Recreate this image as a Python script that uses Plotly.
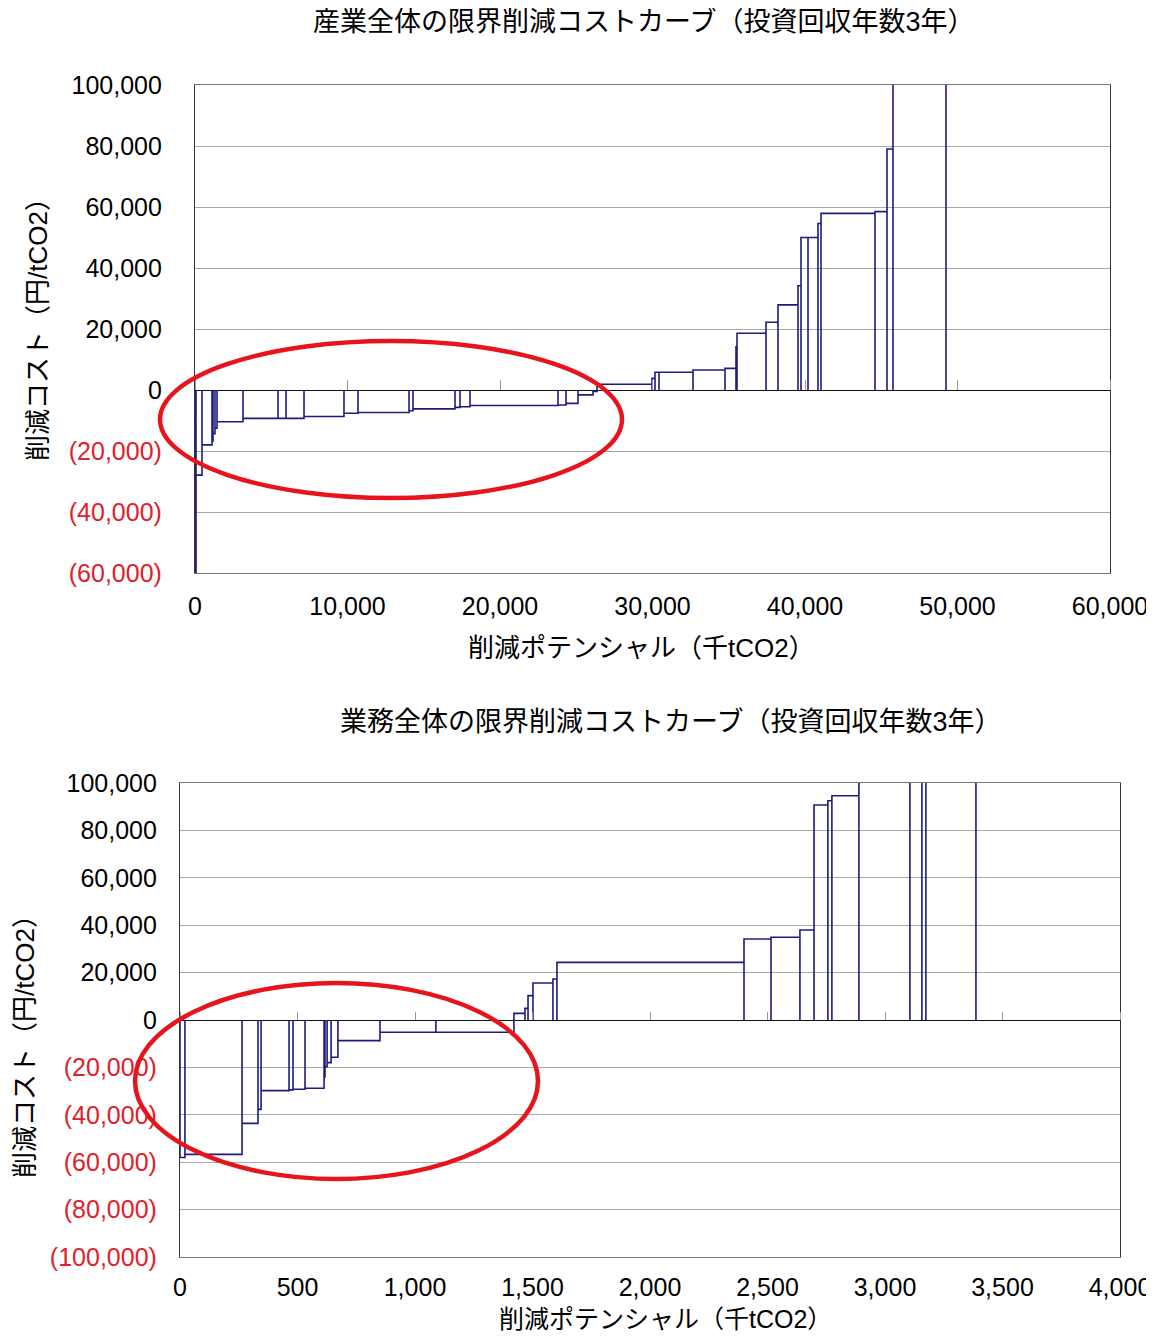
import plotly.graph_objects as go

# ---------------- data ----------------
# Top chart: industry sector (potential in thousand tCO2, cost in yen/tCO2)
ind_width = [66, 393, 656, 65, 131, 132, 1705, 2295, 524, 1181, 2622, 919, 3344, 262,
             2754, 328, 656, 5770, 525, 787, 983, 263, 3606, 197, 262, 2230, 2098, 721,
             66, 1902, 787, 1311, 197, 459, 655, 197, 3541, 787, 393, 3476]
ind_cost = [-70000, -27900, -18000, -16700, -14300, -12500, -10400, -9300, -9300, -9300,
            -8700, -7600, -7400, -6800, -6200, -5700, -5500, -5100, -4900, -4400, -1600,
            -500, 1900, 3800, 5800, 5800, 6550, 7100, 14200, 18600, 22200, 27900, 34200,
            50000, 50000, 54600, 57900, 58500, 79000, 150000]

# Bottom chart: commercial sector
com_width = [21, 243, 68, 13, 119, 17, 51, 81, 4, 9, 17, 29, 179, 238, 332, 47, 13, 21,
             85, 17, 796, 115, 123, 60, 59, 17, 115, 217, 51, 17, 213]
com_cost = [-58000, -56700, -43600, -37700, -29800, -29500, -29200, -28800, -24000,
            -19700, -18000, -15700, -8700, -5200, -5200, 2800, 4900, 10300, 15600, 17300,
            24300, 34200, 34900, 38000, 90700, 92500, 94600, 150000, 130000, 140000, 160000]

ind_yticks = [100000, 80000, 60000, 40000, 20000, 0, -20000, -40000, -60000]
com_yticks = [100000, 80000, 60000, 40000, 20000, 0, -20000, -40000, -60000, -80000, -100000]
ind_xticks = [0, 10000, 20000, 30000, 40000, 50000, 60000]
com_xticks = [0, 500, 1000, 1500, 2000, 2500, 3000, 3500, 4000]

title_top = "産業全体の限界削減コストカーブ（投資回収年数3年）"
title_bot = "業務全体の限界削減コストカーブ（投資回収年数3年）"
xtitle = "削減ポテンシャル（千tCO2）"
ytitle = "削減コスト（円/tCO2）"

# ---------------- helpers ----------------
OFF = 8                      # page body margin
W, H = 1154 - OFF, 1344 - 2 * OFF
LINE = "#1c1c80"
RED = "#e0202a"
FONT = "Liberation Sans, Arial, Noto Sans CJK JP"


def steps(widths, costs):
    xs, ys = [0], [0]
    x0 = 0
    for w, c in zip(widths, costs):
        x1 = x0 + w
        xs += [x0, x1, x1]
        ys += [c, c, 0]
        x0 = x1
    return xs, ys


def ytext(v):
    if v < 0:
        return f"<span style='color:{RED}'>({-v:,})</span>"
    return f"{v:,}"


def px_x(p):
    return (p - OFF) / W


def px_y(p):
    return 1 - (p - OFF) / H


# plot areas in (screen) pixels
top_box = dict(x0=195, x1=1110, y0=85, y1=573)
bot_box = dict(x0=180, x1=1120, y0=783, y1=1257)
top_dom_x = [px_x(top_box["x0"]), px_x(top_box["x1"])]
top_dom_y = [px_y(top_box["y1"]), px_y(top_box["y0"])]
bot_dom_x = [px_x(bot_box["x0"]), px_x(bot_box["x1"])]
bot_dom_y = [px_y(bot_box["y1"]), px_y(bot_box["y0"])]
top_yr = [-60000, 100000]
bot_yr = [-100000, 100000]
top_xr = [0, 60000]
bot_xr = [0, 4000]
top_zero = top_dom_y[0] + (0 - top_yr[0]) / (top_yr[1] - top_yr[0]) * (top_dom_y[1] - top_dom_y[0])
bot_zero = bot_dom_y[0] + (0 - bot_yr[0]) / (bot_yr[1] - bot_yr[0]) * (bot_dom_y[1] - bot_dom_y[0])

fig = go.Figure()
x1s, y1s = steps(ind_width, ind_cost)
x2s, y2s = steps(com_width, com_cost)
fig.add_trace(go.Scatter(x=x1s, y=y1s, mode="lines", line=dict(color=LINE, width=1.6),
                         xaxis="x", yaxis="y", showlegend=False, hoverinfo="skip"))
fig.add_trace(go.Scatter(x=x2s, y=y2s, mode="lines", line=dict(color=LINE, width=1.6),
                         xaxis="x2", yaxis="y2", showlegend=False, hoverinfo="skip"))
# dummy traces for the zero-line tick axes
fig.add_trace(go.Scatter(x=[None], y=[None], xaxis="x3", yaxis="y", showlegend=False))
fig.add_trace(go.Scatter(x=[None], y=[None], xaxis="x4", yaxis="y2", showlegend=False))

axis_common = dict(showline=True, mirror=True, linewidth=1.2, ticks="", automargin=False,
                   tickfont=dict(family=FONT, size=25, color="black"), fixedrange=True)

fig.update_layout(
    width=W, height=H,
    margin=dict(l=0, r=0, t=0, b=0, autoexpand=False),
    paper_bgcolor="white", plot_bgcolor="white",
    font=dict(family=FONT, color="black"),
    xaxis=dict(domain=top_dom_x, range=top_xr, anchor="y", tickvals=ind_xticks,
               tickformat=",", showgrid=False, zeroline=False, linecolor="#777",
               ticklabelstandoff=11, **axis_common),
    yaxis=dict(domain=top_dom_y, range=top_yr, anchor="x", tickvals=ind_yticks,
               ticktext=[ytext(v) for v in ind_yticks], showgrid=True, gridcolor="#a8a8a8",
               gridwidth=1, zeroline=True, zerolinecolor="#111", zerolinewidth=1.4,
               linecolor="#333", ticklabelstandoff=27, **axis_common),
    xaxis2=dict(domain=bot_dom_x, range=bot_xr, anchor="y2", tickvals=com_xticks,
                tickformat=",", showgrid=False, zeroline=False, linecolor="#777",
                ticklabelstandoff=8, **axis_common),
    yaxis2=dict(domain=bot_dom_y, range=bot_yr, anchor="x2", tickvals=com_yticks,
                ticktext=[ytext(v) for v in com_yticks], showgrid=True, gridcolor="#a8a8a8",
                gridwidth=1, zeroline=True, zerolinecolor="#111", zerolinewidth=1.4,
                linecolor="#333", ticklabelstandoff=17, **axis_common),
    xaxis3=dict(overlaying="x", anchor="free", position=top_zero, side="top",
                range=top_xr, tickvals=ind_xticks, ticks="outside", ticklen=10,
                tickcolor="#999", showticklabels=False, showgrid=False, zeroline=False,
                showline=False, fixedrange=True, automargin=False),
    xaxis4=dict(overlaying="x2", anchor="free", position=bot_zero, side="top",
                range=bot_xr, tickvals=com_xticks, ticks="outside", ticklen=8,
                tickcolor="#999", showticklabels=False, showgrid=False, zeroline=False,
                showline=False, fixedrange=True, automargin=False),
)

annots = [
    dict(text=title_top, x=px_x(643), y=px_y(22), size=27),
    dict(text=title_bot, x=px_x(670), y=px_y(722), size=27),
    dict(text=xtitle, x=px_x(641), y=px_y(648), size=26),
    dict(text=xtitle, x=px_x(665), y=px_y(1319), size=25),
]
for a in annots:
    fig.add_annotation(text=a["text"], x=a["x"], y=a["y"], xref="paper", yref="paper",
                       xanchor="center", yanchor="middle", showarrow=False,
                       font=dict(family=FONT, size=a["size"], color="black"))
fig.add_annotation(text=ytitle, x=px_x(38), y=px_y(323), xref="paper", yref="paper",
                   xanchor="center", yanchor="middle", showarrow=False, textangle=-90,
                   font=dict(family=FONT, size=26, color="black"))
fig.add_annotation(text=ytitle, x=px_x(25), y=px_y(1040), xref="paper", yref="paper",
                   xanchor="center", yanchor="middle", showarrow=False, textangle=-90,
                   font=dict(family=FONT, size=26, color="black"))

# red highlight ellipses
for (ex0, ey0, ex1, ey1) in [(160, 341, 622, 498), (135, 983, 538, 1179)]:
    fig.add_shape(type="circle", xref="paper", yref="paper",
                  x0=px_x(ex0), x1=px_x(ex1), y0=px_y(ey1), y1=px_y(ey0),
                  line=dict(color="#e8141c", width=4.5), layer="above")

fig.write_html("out.html")
